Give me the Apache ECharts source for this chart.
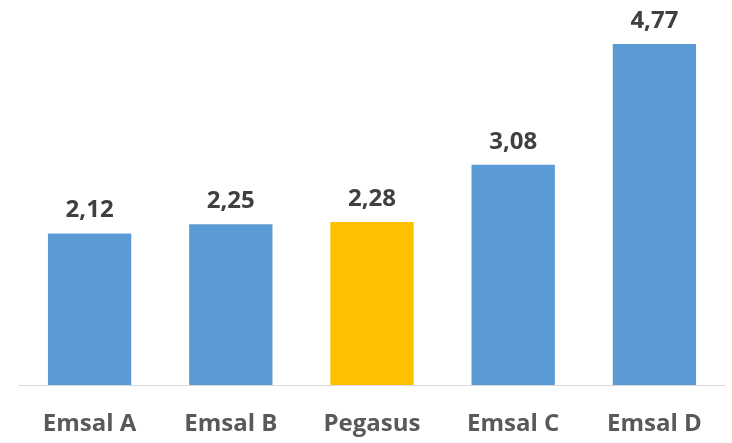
<!DOCTYPE html>
<html><head><meta charset="utf-8">
<script src="https://cdn.jsdelivr.net/npm/echarts@6/dist/echarts.min.js"></script>
<style>html,body{margin:0;padding:0;background:#fff}#c{width:732px;height:443px}</style>
</head><body><div id="c"></div>
<script>
const categories = ["Emsal A", "Emsal B", "Pegasus", "Emsal C", "Emsal D"];
const values = [2.12, 2.25, 2.28, 3.08, 4.77];
const highlight = "Pegasus";

const chart = echarts.init(document.getElementById('c'));
chart.setOption({
  animation: false,
  grid: {left: 19, right: 7, top: 27.5, bottom: 58, containLabel: false},
  xAxis: {
    type: 'category', data: categories,
    axisLine: {lineStyle: {color: '#D9D9D9', width: 1}},
    axisTick: {show: false},
    axisLabel: {color: '#595959', fontFamily: 'Open Sans', fontWeight: 'bold', fontSize: 24, margin: 27}
  },
  yAxis: {type: 'value', min: 0, max: 5, show: false, splitLine: {show: false}},
  series: [{
    type: 'bar', barWidth: '59%',
    data: values.map((v, i) => ({value: v, itemStyle: {color: categories[i] === highlight ? '#FFC000' : '#5B9BD5'}})),
    label: {show: true, position: 'top', distance: 11, color: '#404040', fontFamily: 'Open Sans', fontWeight: 'bold', fontSize: 24,
      formatter: p => p.value.toFixed(2).replace('.', ',')}
  }]
});
</script></body></html>
